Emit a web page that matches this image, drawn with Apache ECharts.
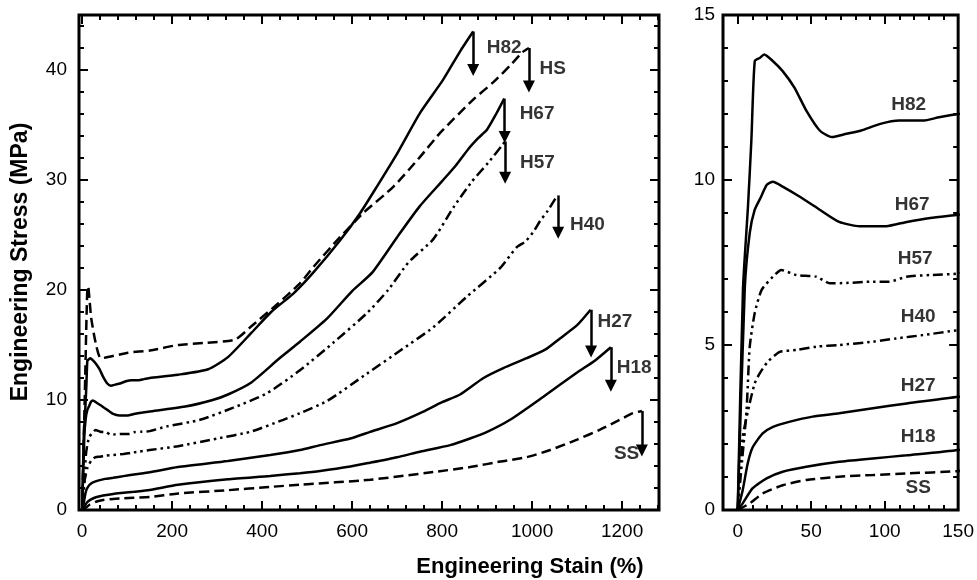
<!DOCTYPE html>
<html>
<head>
<meta charset="utf-8">
<title>Engineering stress-strain</title>
<script src="https://cdn.jsdelivr.net/npm/echarts@6/dist/echarts.min.js"></script>
<style>
    html, body { margin: 0; padding: 0; background: #fff; }
    #stress_strain_con { width: 977px; height: 580px; }
</style>
</head>
<body>
<div id="stress_strain_con"></div>
<script>
// sample names, in drawing order
const sampleNames = ['H82', 'HS', 'H67', 'H57', 'H40', 'H27', 'H18', 'SS'];

// [strain %, stress MPa]
const h82 = [[0, 0], [3.6, 6.7], [7, 9.2], [9.3, 11.2], [11.6, 13.6], [15, 13.7], [18, 13.8], [24, 13.6], [30.6, 13.3], [38.6, 12.8], [46.7, 12.1], [55.8, 11.5], [64, 11.3], [74, 11.4], [84, 11.5], [97, 11.7], [110, 11.8], [126, 11.8], [137, 11.9], [150, 12.0], [213, 12.3], [280, 12.8], [324, 13.9], [376, 16.1], [420, 18.0], [470, 19.7], [514, 21.6], [573, 24.5], [618, 27.0], [655, 29.4], [700, 32.4], [751, 36.1], [802, 39.1], [840, 41.7], [869, 43.5]];
const hs = [[0, 0], [4, 7], [7, 12.5], [10, 18], [12, 20.3], [14, 20.2], [20, 17.5], [30, 15.2], [42, 13.8], [102, 14.3], [151, 14.5], [213, 15.0], [277, 15.2], [340, 15.5], [376, 16.7], [436, 18.8], [484, 20.6], [514, 22.1], [573, 24.8], [625, 27.0], [692, 29.4], [751, 32.1], [796, 34.3], [869, 37.3], [914, 38.9], [951, 40.4], [978, 41.6], [993, 42.0]];
const h67 = [[0, 0], [4.8, 6.7], [8.2, 8.4], [11.6, 9.1], [16, 9.5], [19.7, 9.85], [24, 9.95], [30.6, 9.8], [42, 9.5], [55.8, 9.1], [69, 8.73], [83, 8.6], [101, 8.6], [115, 8.73], [131, 8.85], [150, 8.95], [229, 9.4], [290, 10.0], [324, 10.5], [376, 11.6], [436, 13.7], [484, 15.3], [544, 17.4], [600, 19.9], [645, 21.6], [700, 24.8], [750, 27.6], [800, 29.9], [830, 31.3], [858, 32.8], [880, 33.8], [900, 34.6], [920, 36.0], [938, 37.4]];
const h57 = [[0, 0], [3, 1.5], [6, 3.0], [8.2, 4.95], [11.6, 5.97], [16.3, 6.67], [24, 7.07], [29.7, 7.27], [40, 7.12], [53.5, 7.07], [62.6, 6.87], [74, 6.88], [92, 6.92], [103, 6.92], [115, 7.07], [131, 7.12], [150, 7.17], [188, 7.6], [262, 8.2], [336, 9.3], [410, 10.6], [484, 12.7], [558, 15.2], [633, 17.9], [680, 20.0], [725, 22.5], [780, 24.6], [825, 27.5], [865, 29.8], [903, 31.6], [940, 33.5]];
const h40 = [[0, 0], [3.4, 2.2], [8.2, 3.24], [11.6, 3.84], [15, 4.14], [20.4, 4.49], [28.6, 4.79], [40, 4.85], [53.5, 4.95], [69, 5.0], [92, 5.1], [108, 5.2], [126, 5.3], [150, 5.45], [213, 5.8], [300, 6.5], [373, 7.1], [447, 8.2], [484, 8.8], [544, 9.9], [633, 12.4], [707, 14.5], [780, 16.6], [855, 19.4], [929, 22.0], [966, 23.9], [985, 24.4], [1003, 25.3], [1018, 26.3], [1033, 27.1], [1056, 28.6]];
const h27 = [[0, 0], [3.4, 0.6], [6.8, 1.41], [10.2, 1.9], [17, 2.32], [24, 2.52], [35, 2.67], [51, 2.83], [69, 2.93], [92, 3.08], [115, 3.23], [150, 3.43], [213, 3.9], [324, 4.45], [418, 5.0], [484, 5.45], [529, 5.9], [596, 6.5], [640, 7.1], [700, 7.9], [751, 8.8], [800, 9.8], [840, 10.5], [892, 12.0], [936, 12.9], [988, 13.8], [1030, 14.6], [1062, 15.6], [1100, 16.8], [1130, 18.2]];
const h18 = [[0, 0], [3.4, 0.2], [10.2, 0.66], [19.7, 0.96], [30.6, 1.16], [46.7, 1.31], [69, 1.46], [92, 1.56], [115, 1.66], [150, 1.82], [213, 2.3], [324, 2.8], [418, 3.1], [484, 3.35], [529, 3.55], [596, 3.95], [640, 4.3], [700, 4.8], [751, 5.3], [818, 5.9], [862, 6.5], [900, 7.1], [951, 8.2], [1025, 10.3], [1100, 12.5], [1140, 13.6], [1175, 14.8]];
const ss = [[0, 0], [8.2, 0.2], [17, 0.5], [30.6, 0.75], [46.7, 0.91], [69, 1.01], [92, 1.06], [115, 1.11], [150, 1.18], [213, 1.5], [324, 1.8], [418, 2.1], [484, 2.3], [640, 2.75], [780, 3.45], [862, 3.9], [929, 4.4], [988, 4.8], [1040, 5.45], [1100, 6.4], [1151, 7.3], [1190, 8.1], [1224, 8.8], [1244, 9.0]];

// failure arrows (strain, top stress, tip stress), same order as sampleNames
const arrowStrain = [869, 993, 939, 940, 1058, 1131, 1175, 1244];
const arrowTop = [43.5, 42.0, 37.4, 33.5, 28.6, 18.2, 14.8, 9.0];
const arrowTip = [40.0, 38.5, 33.9, 30.2, 25.2, 14.4, 11.3, 5.4];

// label centres in the full-range panel
const labelStrain = [938, 1046, 1011, 1012, 1123, 1184, 1227, 1210];
const labelStress = [42.05, 40.1, 36.0, 31.6, 25.95, 17.1, 12.9, 5.1];

// label centres in the small-strain panel (no HS there)
const zoomNames = ['H82', 'H67', 'H57', 'H40', 'H27', 'H18', 'SS'];
const zoomLabelStrain = [116.3, 118.7, 120.7, 122.8, 122.8, 122.8, 122.8];
const zoomLabelStress = [12.27, 9.24, 7.62, 5.86, 3.77, 2.23, 0.68];

// tick labels
const strainTicks = [0, 200, 400, 600, 800, 1000, 1200];
const stressTicks = [0, 10, 20, 30, 40];
const zoomStrainTicks = [0, 50, 100, 150];
const zoomStressTicks = [0, 5, 10, 15];

const curves = { H82: h82, HS: hs, H67: h67, H57: h57, H40: h40, H27: h27, H18: h18, SS: ss };
const dashKind = { H82: 'solid', HS: [10, 5], H67: 'solid', H57: [10, 4, 2.5, 4, 2.5, 4], H40: [10, 4, 2.5, 4, 2.5, 4], H27: 'solid', H18: 'solid', SS: [10, 5] };

const FONT = '"Liberation Sans", Arial, sans-serif';

function minorOf(from, to, step, majors) {
    const out = [];
    for (let v = from; v <= to + 1e-9; v += step) {
        if (majors.indexOf(v) < 0) out.push(v);
    }
    return out;
}

// four axes per side pair: near major (labels), near minor, far major, far minor
function boxAxes(dim, gridIndex, range, majors, minors, margin) {
    const near = dim === 'x' ? 'bottom' : 'left';
    const far = dim === 'x' ? 'top' : 'right';
    const mk = (position, ticks, len, labels) => ({
        type: 'value',
        gridIndex: gridIndex,
        position: position,
        offset: 0,
        min: range[0],
        max: range[1],
        axisLine: { show: false, onZero: false },
        splitLine: { show: false },
        axisTick: { show: true, inside: true, length: len, customValues: ticks, lineStyle: { color: '#000', width: 2 } },
        axisLabel: labels ? {
            show: true, customValues: majors, margin: margin,
            color: '#000', fontSize: 19, fontFamily: FONT,
            formatter: v => String(v)
        } : { show: false }
    });
    return [mk(near, majors, 9, true), mk(near, minors, 5, false), mk(far, majors, 9, false), mk(far, minors, 5, false)];
}

const chart = echarts.init(document.getElementById('stress_strain_con'));

const series = [];
sampleNames.forEach((name, i) => {
    series.push({
        name: name,
        type: 'line',
        xAxisIndex: 0,
        yAxisIndex: 0,
        data: curves[name],
        showSymbol: false,
        symbol: 'none',
        smooth: 0.2,
        lineStyle: { color: '#000', width: 2.5, type: dashKind[name], cap: 'butt' },
        markLine: {
            silent: true,
            symbol: ['none', 'triangle'],
            symbolSize: 12,
            label: { show: false },
            lineStyle: { color: '#000', width: 2.5, type: 'solid' },
            itemStyle: { color: '#000' },
            data: [[{ coord: [arrowStrain[i], arrowTop[i]] }, { coord: [arrowStrain[i], arrowTip[i]] }]]
        }
    });
});
zoomNames.forEach((name) => {
    series.push({
        name: name + ' (0-150%)',
        type: 'line',
        xAxisIndex: 4,
        yAxisIndex: 4,
        data: curves[name],
        showSymbol: false,
        symbol: 'none',
        smooth: 0.2,
        clip: true,
        lineStyle: { color: '#000', width: 2.5, type: dashKind[name], cap: 'butt' }
    });
});

const labelText = { show: true, position: 'inside', color: '#000', fontSize: 19, fontWeight: 'bold', fontFamily: FONT, formatter: p => p.name };
series.push({
    type: 'scatter',
    xAxisIndex: 0,
    yAxisIndex: 0,
    symbolSize: 1,
    itemStyle: { color: 'rgba(0,0,0,0)' },
    label: labelText,
    data: sampleNames.map((n, i) => ({ name: n, value: [labelStrain[i], labelStress[i]] }))
});
series.push({
    type: 'scatter',
    xAxisIndex: 4,
    yAxisIndex: 4,
    symbolSize: 1,
    itemStyle: { color: 'rgba(0,0,0,0)' },
    label: labelText,
    data: zoomNames.map((n, i) => ({ name: n, value: [zoomLabelStrain[i], zoomLabelStress[i]] }))
});

const option = {
    animation: false,
    backgroundColor: '#fff',
    textStyle: { fontFamily: FONT },
    grid: [
        { left: 79, top: 15, width: 580, height: 495, show: true, borderColor: '#000', borderWidth: 3, backgroundColor: 'transparent' },
        { left: 723, top: 15, width: 236, height: 495, show: true, borderColor: '#000', borderWidth: 3, backgroundColor: 'transparent' }
    ],
    xAxis: boxAxes('x', 0, [-7, 1282], strainTicks, minorOf(0, 1280, 40, strainTicks), 12)
        .concat(boxAxes('x', 1, [-10, 150], zoomStrainTicks, minorOf(0, 150, 10, zoomStrainTicks), 12)),
    yAxis: boxAxes('y', 0, [0, 45], stressTicks, minorOf(0, 45, 2, stressTicks), 12)
        .concat(boxAxes('y', 1, [0, 15], zoomStressTicks, minorOf(0, 15, 1, zoomStressTicks), 8)),
    graphic: [
        {
            type: 'text', x: 21, y: 262, rotation: Math.PI / 2,
            style: { text: 'Engineering Stress (MPa)', fill: '#000', font: 'bold 23px ' + FONT, align: 'center', verticalAlign: 'middle' }
        },
        {
            type: 'text', x: 530, y: 567,
            style: { text: 'Engineering Stain (%)', fill: '#000', font: 'bold 22px ' + FONT, align: 'center', verticalAlign: 'middle' }
        }
    ],
    series: series
};
chart.setOption(option);
</script>
</body>
</html>
